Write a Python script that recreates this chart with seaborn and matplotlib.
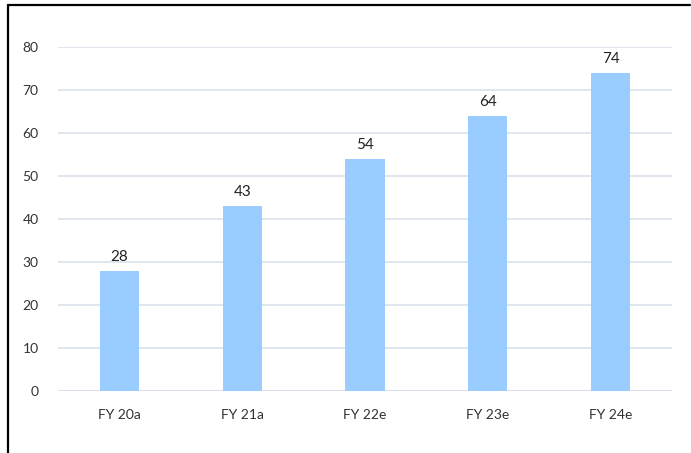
import matplotlib
matplotlib.use("Agg")
import matplotlib.pyplot as plt
from matplotlib.lines import Line2D
import seaborn as sns
import pandas as pd

categories = ["FY 20a", "FY 21a", "FY 22e", "FY 23e", "FY 24e"]
values = [28, 43, 54, 64, 74]
y_ticks = [0, 10, 20, 30, 40, 50, 60, 70, 80]

sns.set_theme(style="white")
plt.rcParams["font.family"] = ["Lato", "DejaVu Sans"]

df = pd.DataFrame({"period": categories, "value": values})

fig = plt.figure(figsize=(6.91, 4.53), dpi=100)
ax = fig.add_axes([0.0839, 0.1369, 0.8886, 0.7593])

sns.barplot(data=df, x="period", y="value", color="#99CCFF", saturation=1,
            width=0.32, linewidth=0, ax=ax, zorder=3)

ax.set_ylim(0, 80)
ax.set_xlim(-0.5, len(categories) - 0.5)
ax.set_yticks(y_ticks)
ax.yaxis.grid(True, color="#D9E1EA", linewidth=1.2, zorder=0)
ax.set_axisbelow(True)
for s in ax.spines.values():
    s.set_visible(False)
ax.axhline(0, color="#D9E1EA", linewidth=1.2, zorder=1)
ax.set_xlabel("")
ax.set_ylabel("")
ax.tick_params(axis="y", length=0, pad=14, labelsize=10, labelcolor="#333333")
ax.tick_params(axis="x", length=0, pad=13, labelsize=10, labelcolor="#333333")

for container in ax.containers:
    ax.bar_label(container, labels=[str(v) for v in values], padding=5,
                 fontsize=11, color="#222222")

# frame lines along the top and left edge
fig.add_artist(Line2D([0.0116, 0.9985], [0.9890, 0.9890], color="black",
                      linewidth=1.6, transform=fig.transFigure))
fig.add_artist(Line2D([0.0116, 0.0116], [0.0, 0.9890], color="black",
                      linewidth=1.6, transform=fig.transFigure))

fig.savefig("out.png", dpi=100)
